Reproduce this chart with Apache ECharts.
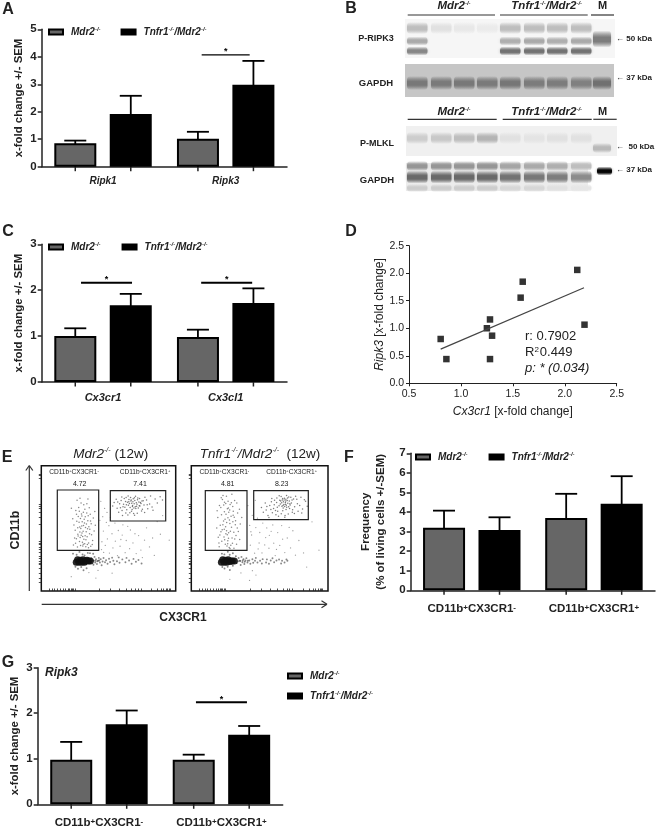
<!DOCTYPE html>
<html>
<head>
<meta charset="utf-8">
<script src="https://cdn.jsdelivr.net/npm/echarts@6/dist/echarts.min.js"></script>
<style>
html,body{margin:0;padding:0;background:#fff;}
#main{width:656px;height:827px;}
</style>
</head>
<body>
<div id="main"></div>
<script>
// group names
var MDR = 'Mdr2-/-';
var TNF = 'Tnfr1-/-/Mdr2-/-';

// panel A
var catsA = ['Ripk1', 'Ripk3'];
var mdrA = [0.85, 1.02];
var mdrTopA = [0.95, 1.27];
var tnfA = [1.92, 2.98];
var tnfTopA = [2.58, 3.85];
// panel C
var catsC = ['Cx3cr1', 'Cx3cl1'];
var mdrC = [1.0, 0.98];
var mdrTopC = [1.17, 1.14];
var tnfC = [1.67, 1.72];
var tnfTopC = [1.92, 2.04];
// panel F
var catsCells = ['CD11b+CX3CR1-', 'CD11b+CX3CR1+'];
var mdrF = [3.2, 3.7];
var mdrTopF = [4.07, 4.93];
var tnfF = [3.08, 4.42];
var tnfTopF = [3.73, 5.83];
// panel G
var mdrG = [0.98, 0.98];
var mdrTopG = [1.37, 1.09];
var tnfG = [1.76, 1.53];
var tnfTopG = [2.06, 1.72];

// panel D
var corrPoints = [[0.805,0.805],[0.86,0.44],[1.25,1.0],[1.28,1.16],[1.30,0.865],[1.28,0.44],[1.575,1.556],[1.595,1.846],[2.12,2.06],[2.19,1.065]];
var corrLine = [[0.805,0.62],[2.185,1.737]];

// panel E, % of the plot box
var mdrGateLow = [[30.4,55.2],[26.1,41.7],[33.8,62.3],[28.7,47.1],[35.2,38.4],[31.6,68.9],[24.3,52.6],[37.4,44.8],[29.2,36.3],[32.9,50.7],[27.5,59.4],[34.6,56.1],[30.8,43.5],[25.7,64.2],[36.1,49.3],[28.1,54.8],[33.2,40.9],[31.1,47.6],[38.7,58.2],[26.9,35.1],[29.9,61.5],[35.7,66.4],[32.3,37.8],[27.2,45.3],[34.1,43.2],[30.1,51.9],[23.4,57.7],[36.8,35.7],[31.9,57.3],[28.4,39.6],[33.6,53.4],[25.2,48.5],[39.3,47.9],[29.6,70.3],[32.6,44.1],[27.8,66.7],[35.4,51.2],[30.6,38.9],[34.9,60.1],[26.4,55.6],[31.3,62.8],[28.9,42.7],[37.1,53.7],[33.1,35.4],[29.4,49.8],[24.8,42.3],[36.4,61.2],[32.1,54.2],[27.1,50.4],[30.3,46.2],[34.3,37.1],[38.2,40.3],[28.3,63.6],[31.7,41.4],[35.9,45.6],[26.6,72.4],[33.4,47.2],[29.1,57.9],[32.4,65.3],[25.5,38.2],[30.9,35.9],[36.6,55.8],[27.4,43.9],[34.4,49.6],[31.4,52.3],[28.6,51.1],[39.8,63.4],[33.9,69.7],[22.4,66.1],[29.7,44.4],[35.1,34.6],[32.7,59.2],[26.2,61.3],[37.9,37.2],[30.2,59.8],[34.7,73.5],[23.9,36.7],[40.2,52.5],[28.8,74.1],[31.2,37.4]];
var mdrGateHigh = [[67.3,70.1],[64.8,68.4],[69.6,72.3],[71.2,69.2],[66.1,66.7],[62.7,71.4],[73.4,67.9],[68.4,73.6],[65.2,73.1],[70.3,65.8],[60.8,67.2],[74.9,71.8],[67.9,68.2],[63.6,64.9],[69.1,69.6],[71.8,74.2],[66.7,71.9],[58.3,69.7],[76.4,68.6],[64.1,70.9],[72.6,71.1],[61.7,73.8],[68.9,66.3],[75.2,65.2],[56.4,66.1],[70.7,70.4],[65.9,62.4],[78.3,72.7],[62.2,66.8],[73.1,73.9],[67.1,63.7],[59.4,72.2],[69.9,67.3],[80.6,69.4],[54.2,70.6],[72.2,66.2],[63.3,68.9],[77.1,74.8],[66.4,74.7],[60.1,64.3],[74.2,69.9],[68.2,71.3],[82.4,67.1],[57.6,62.9],[70.1,75.6],[64.4,60.7],[79.2,65.7],[71.4,62.1],[61.2,69.3],[75.8,72.1],[67.6,65.1],[55.7,73.2],[84.7,73.4],[65.6,69.8],[69.4,60.4],[73.7,70.7],[63.1,74.6],[81.3,75.9],[58.9,66.4],[76.9,62.6],[72.9,68.1],[66.9,72.6],[53.1,67.8],[86.3,70.2],[62.9,62.3],[70.9,67.7],[78.8,68.9],[59.9,75.1],[88.4,75.2],[74.6,63.8],[68.7,61.8],[83.1,64.4],[64.6,75.8],[60.4,60.2],[71.6,72.8],[56.9,71.1],[65.1,71.2],[67.8,67.4],[69.3,74.4],[90.2,72.6]];
var mdrSparse = [[44.3,71.6],[45.7,59.3],[46.2,47.8],[47.6,36.4],[47.1,65.9],[48.4,54.7],[49.2,41.6],[50.7,30.3],[50.3,52.1],[52.6,45.7],[53.3,34.4],[54.8,54.2],[55.1,39.8],[56.7,28.2],[57.3,48.3],[58.6,35.7],[60.2,44.6],[60.7,52.8],[62.4,30.6],[63.2,40.3],[65.7,33.8],[66.3,48.7],[68.2,38.4],[70.6,29.9],[72.4,44.2],[74.1,32.7],[76.8,40.6],[78.3,50.4],[80.5,35.2],[84.1,28.4],[75.2,26.7],[90.3,60.2],[46.4,30.8],[52.7,14.2],[22.3,11.4],[40.6,10.3],[35.4,14.7],[42.2,16.4],[95.2,40.6],[88.6,45.3],[43.6,56.4],[45.1,39.3],[44.8,33.1],[51.4,58.6],[48.9,62.7],[59.2,41.1],[64.3,51.6],[69.7,45.7],[82.8,42.3],[86.2,55.4]];
var mdrTail = [[36.4,22.3],[37.2,26.1],[38.3,24.4],[38.8,20.9],[39.6,27.2],[40.1,22.8],[40.7,25.3],[41.4,21.6],[42.3,24.2],[42.8,26.4],[43.6,22.7],[44.2,25.4],[44.9,20.6],[45.6,23.6],[46.3,26.3],[47.4,22.9],[48.2,24.6],[49.3,21.7],[50.4,25.7],[51.2,23.2],[52.7,26.6],[53.6,24.1],[54.4,21.4],[56.3,23.7],[57.6,26.8],[58.2,22.6],[60.3,25.2],[62.6,22.9],[63.4,26.4],[65.3,24.3],[67.2,21.8],[68.6,25.6],[70.4,23.4],[72.3,24.7],[74.6,21.9],[23.6,29.8],[26.3,28.9],[28.4,31.2],[30.7,29.1],[32.2,28.3],[34.6,30.4],[27.3,17.8],[29.7,19.2],[31.4,16.6],[25.4,19.3],[33.7,18.2],[36.2,30.2],[38.6,29.7],[37.1,23.4],[38.9,24.2],[40.2,24.1],[41.6,23.7],[43.1,24.3]];
var mdrBlob = [[26,23],[27,25],[28,23],[29,24.5],[30,23],[31,25],[32,23],[33,24],[34,24.5],[35,24],[36.5,24]];
var tnfGateLow = [[25.4,61.2],[21.7,47.3],[29.3,70.4],[23.6,55.8],[31.8,41.6],[27.1,66.3],[19.4,58.7],[33.6,50.2],[24.9,37.4],[28.2,53.9],[22.8,73.1],[30.7,63.7],[26.3,44.8],[20.6,68.2],[32.4,56.1],[24.1,49.2],[28.9,36.6],[26.8,58.4],[35.2,65.2],[22.3,39.7],[25.7,75.6],[31.1,46.9],[27.7,34.8],[21.2,52.4],[29.8,42.3],[25.9,54.6],[18.9,64.1],[33.1,37.3],[27.4,62.9],[23.9,43.1],[29.1,59.6],[20.9,44.6],[35.8,53.4],[25.2,69.8],[28.6,47.7],[23.2,76.3],[31.4,58.9],[26.1,35.9],[30.3,67.4],[22.1,60.8],[26.9,71.7],[24.4,40.9],[33.9,62.2],[28.3,33.9],[25.1,51.3],[20.2,38.4],[32.7,44.2],[27.9,56.7],[22.6,48.8],[26.4,65.6],[30.1,38.2],[34.4,47.4],[23.7,68.7],[27.2,42.1],[31.7,72.3],[21.9,74.4],[29.4,50.9],[24.7,57.3],[28.1,64.7],[20.4,35.3],[26.6,37.8],[32.2,52.8],[23.1,52.9],[30.4,55.3],[27.3,46.4],[24.2,63.3],[35.4,41.2],[29.7,77.2],[18.6,50.3],[25.3,45.7],[31.2,34.2],[28.4,69.1],[21.6,66.7],[33.3,70.2],[25.8,48.1],[30.6,60.4],[19.7,42.9],[36.9,58.6],[24.3,70.9],[26.7,40.2]];
var tnfGateHigh = [[67.4,71.3],[65.1,69.4],[69.2,73.2],[70.6,70.1],[66.3,67.6],[62.4,70.6],[72.3,68.7],[68.1,74.1],[64.7,72.4],[69.8,66.9],[60.2,65.8],[73.7,72.6],[67.7,69.1],[63.2,63.7],[68.8,70.7],[71.3,75.1],[66.6,72.7],[57.4,68.3],[75.6,67.2],[64.2,68.1],[71.7,71.9],[60.9,72.4],[68.3,67.4],[74.1,64.9],[54.8,64.6],[70.2,72.3],[65.8,61.7],[77.2,73.3],[61.6,64.2],[72.8,74.8],[66.9,64.1],[58.6,71.3],[69.5,68.4],[79.3,68.2],[52.7,62.8],[71.9,65.8],[62.9,66.9],[76.3,75.7],[65.7,75.4],[59.3,62.4],[73.2,70.3],[67.9,72.6],[81.4,65.4],[56.1,60.3],[69.7,76.2],[63.8,59.6],[78.1,63.7],[70.9,61.4],[60.7,68.9],[74.8,73.4],[67.2,66.2],[54.1,70.2],[83.6,71.7],[66.1,70.4],[68.6,60.2],[72.1,69.6],[62.6,74.3],[80.2,74.9],[58.2,65.1],[75.4,61.8],[71.2,67.3],[66.8,73.8],[51.3,66.7],[84.8,67.6],[61.9,60.8],[69.3,65.1],[77.6,69.7],[58.9,73.9],[82.7,72.8],[73.9,62.9],[68.4,58.9],[80.8,62.3],[64.3,76.1],[56.8,58.6],[70.4,74.2],[55.3,67.4],[65.4,71.8],[67.1,68.3],[69.1,71.8],[68.9,69.3]];
var tnfSparse = [[41.4,68.2],[42.7,52.3],[43.2,36.6],[44.6,60.4],[44.1,44.7],[46.3,30.2],[46.8,72.4],[47.2,50.6],[48.4,58.1],[49.6,38.3],[50.1,46.7],[51.7,30.4],[52.3,54.2],[54.4,42.6],[55.2,50.3],[56.8,34.1],[57.1,44.4],[59.6,52.7],[60.3,38.2],[61.4,28.3],[63.2,46.6],[64.7,36.4],[66.1,52.2],[68.4,30.7],[70.2,42.3],[72.6,34.4],[74.3,48.1],[76.2,28.6],[78.7,40.3],[82.1,30.4],[88.3,55.2],[93.4,32.6],[44.7,16.2],[36.3,14.4],[28.2,9.3],[42.6,8.4],[84.4,19.1],[47.3,12.7],[43.6,47.3],[48.9,33.6],[53.7,36.8],[58.4,47.6],[62.3,33.2],[66.8,41.4],[71.6,50.7]];
var tnfTail = [[33.2,22.4],[34.6,26.3],[35.4,24.2],[36.1,20.8],[36.7,27.2],[37.4,22.9],[38.2,25.3],[38.8,21.6],[39.6,24.3],[40.3,26.2],[41.1,22.7],[42.4,24.4],[43.2,21.8],[44.7,25.3],[45.3,22.6],[46.6,24.1],[47.2,26.4],[48.4,22.7],[50.3,24.2],[51.6,21.9],[52.2,25.4],[54.7,22.8],[55.3,25.2],[56.8,21.7],[58.1,24.3],[59.4,26.1],[60.6,22.9],[62.3,24.4],[64.2,25.1],[65.7,21.9],[66.4,24.2],[68.2,22.8],[69.6,25.2],[70.3,24.1],[22.4,29.8],[24.2,29.2],[26.7,31.3],[28.1,28.9],[30.4,30.1],[32.6,27.8],[24.3,17.9],[26.6,19.3],[28.2,16.8],[30.4,20.1],[22.7,19.2],[34.2,23.7],[35.8,23.9],[37.6,24.4],[39.1,23.4],[41.3,24.2]];
var tnfBlob = [[22,23],[23,25],[24,23],[25,24.5],[26,23],[27,25],[28,23.5],[29,24],[30,24],[31.5,24]];
var flowTicksX = [6,8,10,12,14,16,18,20,21,22,23,24,25,43,51,58,63,67,70,72,74,82,86,89,91,93,94,95,96];
var flowTicksY = [7,10,14,18,21,22.5,24,26,28,31,33,35,37,38.5,40,53,59,63,66,68,69,90,92,93];

// blot grey levels per lane, 255 = no band
var ripk3Top = [190,225,232,235,190,190,190,190,255];
var ripk3Mid = [170,255,255,255,175,170,175,170,255];
var ripk3Low = [135,255,255,255,115,115,115,115,255];
var gapdhA = [120,122,120,122,118,124,124,128,112];
var mlklRow = [205,200,190,180,225,228,225,225,255];
var gapdhTop = [150,150,150,150,165,170,175,190,255];
var gapdhMain = [105,105,105,105,115,120,125,140,255];
var gapdhLow = [205,205,205,205,215,215,225,230,255];

var FONT = '"Liberation Sans", Arial, sans-serif';
var INK = '#222';
var BAR_GREY = '#666';
var OFFSET = 27.75;

var supStyle = {fontSize: 6, verticalAlign: 'top', fontWeight: 'bold', fontStyle: 'italic', fontFamily: FONT, color: INK, fill: INK};

// Mdr2-/- -> rich text with the -/- raised
function groupLabel(name) {
	return name.split('-/-').map(function (part, i, all) {
		var out = part ? '{i|' + part + '}' : '';
		return i < all.length - 1 ? out + '{s|-/-}' : out;
	}).join('');
}
// CD11b+CX3CR1- -> rich text with signs raised
function cellLabel(name) {
	return '{b|CD11b}{p|+}{b|CX3CR1}{p|' + name.slice(-1) + '}';
}

var grids = [], xAxes = [], yAxes = [], series = [], legends = [];

function addLegend(l, t, gap, orient) {
	legends.push({
		left: l, top: t, orient: orient || 'horizontal', padding: 0, itemWidth: 14, itemHeight: 5, itemGap: gap,
		icon: 'rect', data: [MDR, TNF], selectedMode: false,
		formatter: function (n) { return '{g|}' + groupLabel(n); },
		textStyle: {
			color: INK,
			rich: {
				g: {width: 3},
				i: {fontSize: 10, fontWeight: 'bold', fontStyle: 'italic', fontFamily: FONT, color: INK, height: 10},
				s: supStyle
			}
		}
	});
}

function addBars(p) {
	var gi = grids.length;
	grids.push({left: p.left, top: p.top, width: p.width, height: p.height, outerBoundsMode: 'none'});
	xAxes.push({
		gridIndex: gi, type: 'category', data: p.cats,
		axisLine: {lineStyle: {color: INK, width: 1.5}},
		axisTick: {show: false},
		axisLabel: {
			interval: 0, margin: p.labelMargin, color: INK, fontFamily: FONT,
			fontSize: p.catSize, fontWeight: 'bold', fontStyle: p.cell ? 'normal' : 'italic',
			formatter: p.cell ? cellLabel : null,
			rich: p.cell ? {
				b: {fontSize: 11.5, fontWeight: 'bold', fontFamily: FONT, color: INK},
				p: {fontSize: 8, fontWeight: 'bold', fontFamily: FONT, color: INK, verticalAlign: 'top'}
			} : undefined
		}
	});
	yAxes.push({
		gridIndex: gi, type: 'value', min: 0, max: p.max, interval: 1,
		splitLine: {show: false},
		axisLine: {show: true, lineStyle: {color: INK, width: 1.5}},
		axisTick: {show: true, length: 4, lineStyle: {color: INK, width: 1.5}},
		axisLabel: {margin: 5, color: INK, fontFamily: FONT, fontSize: 11.5, fontWeight: 'bold'},
		name: p.yName, nameLocation: 'middle', nameGap: p.nameGap,
		nameTextStyle: {color: INK, fontFamily: FONT, fontSize: p.nameSize || 11.4, fontWeight: 'bold', lineHeight: 15}
	});
	[[MDR, p.mdr, BAR_GREY], [TNF, p.tnf, '#000']].forEach(function (s) {
		series.push({
			name: s[0], type: 'bar', xAxisIndex: gi, yAxisIndex: gi, data: s[1],
			barWidth: 42, barGap: '32%', itemStyle: {color: s[2], borderColor: '#000', borderWidth: 2}
		});
	});
	// error bars and the tick under each bar
	var rows = [];
	p.mdrTop.forEach(function (v, i) { rows.push([i, -1, v]); });
	p.tnfTop.forEach(function (v, i) { rows.push([i, 1, v]); });
	series.push({
		name: 'err', type: 'custom', xAxisIndex: gi, yAxisIndex: gi, data: rows, z: 1, silent: true,
		encode: {x: 0, y: 2},
		renderItem: function (params, api) {
			var top = api.coord([api.value(0), api.value(2)]);
			var base = api.coord([api.value(0), 0]);
			var x = top[0] + api.value(1) * OFFSET;
			var st = {stroke: '#000', lineWidth: 1.8};
			return {type: 'group', children: [
				{type: 'line', shape: {x1: x, y1: top[1], x2: x, y2: base[1]}, style: st},
				{type: 'line', shape: {x1: x - 11, y1: top[1], x2: x + 11, y2: top[1]}, style: st},
				{type: 'line', shape: {x1: x, y1: base[1], x2: x, y2: base[1] + 4.5}, style: {stroke: INK, lineWidth: 1.5}}
			]};
		}
	});
	// significance bars
	if (p.sig) {
		series.push({
			name: 'sig', type: 'custom', xAxisIndex: gi, yAxisIndex: gi, data: p.sig, silent: true, z: 3,
			encode: {x: 0, y: 1},
			renderItem: function (params, api) {
				var c = api.coord([api.value(0), api.value(1)]);
				var cx = c[0] + (api.value(2) || 0);
				return {type: 'group', children: [
					{type: 'line', shape: {x1: cx - p.sigHalf, y1: c[1], x2: cx + p.sigHalf, y2: c[1]}, style: {stroke: '#000', lineWidth: p.sigWidth}},
					{type: 'text', style: {x: cx, y: c[1] - 3, text: '*', fill: '#000', font: 'bold 9px ' + FONT, textAlign: 'center', textVerticalAlign: 'middle'}}
				]};
			}
		});
	}
}

function addFlow(left, width, low, high, sparse, tail, blob) {
	var gi = grids.length;
	grids.push({left: left, top: 465.7, width: width, height: 125.3, outerBoundsMode: 'none', show: true, borderColor: '#111', borderWidth: 1.5, backgroundColor: 'transparent'});
	xAxes.push({gridIndex: gi, type: 'value', min: 0, max: 100, splitLine: {show: false}, axisLine: {show: false}, axisLabel: {show: false},
		axisTick: {show: true, customValues: flowTicksX, length: 2.5, inside: true, lineStyle: {color: INK, width: 0.8}}});
	yAxes.push({gridIndex: gi, type: 'value', min: 0, max: 100, splitLine: {show: false}, axisLine: {show: false}, axisLabel: {show: false},
		axisTick: {show: true, customValues: flowTicksY, length: 2.5, lineStyle: {color: INK, width: 0.8}}});
	[[sparse, 1.3, 0.4], [low, 1.5, 0.5], [high, 1.5, 0.55], [tail, 1.9, 0.5], [blob, 7, 0.9]].forEach(function (s) {
		series.push({type: 'scatter', xAxisIndex: gi, yAxisIndex: gi, data: s[0], symbol: 'circle', symbolSize: s[1], silent: true,
			itemStyle: {color: '#111', opacity: s[2]}});
	});
}

addBars({left: 41.7, top: 29.3, width: 245.3, height: 137.4, max: 5, cats: catsA, mdr: mdrA, mdrTop: mdrTopA, tnf: tnfA, tnfTop: tnfTopA,
	yName: 'x-fold change +/- SEM', nameGap: 15, catSize: 10, labelMargin: 10, sig: [[1, 4.07]], sigHalf: 24, sigWidth: 1.1});
addBars({left: 41.7, top: 244.3, width: 245.3, height: 137.7, max: 3, cats: catsC, mdr: mdrC, mdrTop: mdrTopC, tnf: tnfC, tnfTop: tnfTopC,
	yName: 'x-fold change +/- SEM', nameGap: 11, catSize: 11, labelMargin: 10, sig: [[0, 2.16, 3.5], [1, 2.16, 1]], sigHalf: 25.5, sigWidth: 2});
addBars({left: 410.7, top: 453.3, width: 244.3, height: 137, max: 7, cats: catsCells, cell: true, mdr: mdrF, mdrTop: mdrTopF, tnf: tnfF, tnfTop: tnfTopF,
	yName: 'Frequency\n(% of living cells +/-SEM)', nameGap: 22, catSize: 11, labelMargin: 13, nameSize: 11.5});
addBars({left: 37.7, top: 667.7, width: 245, height: 136.6, max: 3, cats: catsCells, cell: true, mdr: mdrG, mdrTop: mdrTopG, tnf: tnfG, tnfTop: tnfTopG,
	yName: 'x-fold change +/- SEM', nameGap: 15, catSize: 11, labelMargin: 13, sig: [[1, 2.24]], sigHalf: 25.5, sigWidth: 2});

addLegend(48, 26, 20);
addLegend(48, 241, 21);
addLegend(415, 451, 21);
addLegend(287, 670, 8, 'vertical');

// panel D scatter
var gd = grids.length;
grids.push({left: 409, top: 245.7, width: 207.7, height: 137.6, outerBoundsMode: 'none'});
var dLabel = function (v) { return v.toFixed(1); };
var dName = {rich: {i: {fontStyle: 'italic', fontSize: 12, fontFamily: FONT, color: INK}, n: {fontSize: 12, fontFamily: FONT, color: INK}}};
xAxes.push({gridIndex: gd, type: 'value', min: 0.5, max: 2.5, interval: 0.5, splitLine: {show: false},
	axisLine: {lineStyle: {color: INK, width: 1}}, axisTick: {length: 3, lineStyle: {color: INK}},
	axisLabel: {margin: 5, color: INK, fontFamily: FONT, fontSize: 10.5, formatter: dLabel},
	name: '{i|Cx3cr1}{n| [x-fold change]}', nameLocation: 'middle', nameGap: 22, nameTextStyle: dName});
yAxes.push({gridIndex: gd, type: 'value', min: 0, max: 2.5, interval: 0.5, splitLine: {show: false},
	axisLine: {show: true, lineStyle: {color: INK, width: 1}}, axisTick: {show: true, length: 3, lineStyle: {color: INK}},
	axisLabel: {margin: 5, color: INK, fontFamily: FONT, fontSize: 10.5, formatter: dLabel},
	name: '{i|Ripk3}{n| [x-fold change]}', nameLocation: 'middle', nameGap: 23, nameTextStyle: dName});
series.push({type: 'line', xAxisIndex: gd, yAxisIndex: gd, data: corrLine, showSymbol: false, silent: true, lineStyle: {color: '#444', width: 1.2}});
series.push({type: 'scatter', xAxisIndex: gd, yAxisIndex: gd, data: corrPoints, symbol: 'rect', symbolSize: 6.5, silent: true, itemStyle: {color: '#000'}});

// panel E dot plots
addFlow(41.3, 134.4, mdrGateLow, mdrGateHigh, mdrSparse, mdrTail, mdrBlob);
addFlow(191.3, 136.7, tnfGateLow, tnfGateHigh, tnfSparse, tnfTail, tnfBlob);

// drawn furniture
var gfx = [];
function txt(x, y, text, font, extra) {
	var el = {type: 'text', x: x, y: y, silent: true, z: 10, style: {text: text, font: font + ' ' + FONT, fill: INK, textAlign: 'center', textVerticalAlign: 'middle'}};
	if (extra) {
		if (extra.rotation) el.rotation = extra.rotation;
		if (extra.rich) el.style.rich = extra.rich;
		if (extra.align) el.style.textAlign = extra.align;
		if (extra.fill) el.style.fill = extra.fill;
	}
	gfx.push(el);
}
function seg(x1, y1, x2, y2, w, color) {
	gfx.push({type: 'line', silent: true, z: 10, shape: {x1: x1, y1: y1, x2: x2, y2: y2}, style: {stroke: color || '#333', lineWidth: w}});
}
function box(x, y, w, h, stroke, fill) {
	gfx.push({type: 'rect', silent: true, z: stroke ? 9 : 6, shape: {x: x, y: y, width: w, height: h}, style: {stroke: stroke || null, lineWidth: 1.2, fill: fill || 'transparent'}});
}
function gray(g, a) { return 'rgba(' + g + ',' + g + ',' + g + ',' + a + ')'; }
function band(x, y, w, h, g) {
	if (g >= 255) return;
	gfx.push({type: 'rect', silent: true, z: 7, shape: {x: x, y: y - h / 2, width: w, height: h, r: 4},
		style: {shadowBlur: 3, shadowColor: gray(g, 0.4), fill: {type: 'linear', x: 0, y: 0, x2: 0, y2: 1, colorStops: [
			{offset: 0, color: gray(g, 0)}, {offset: 0.4, color: gray(g, 1)}, {offset: 0.65, color: gray(g, 1)}, {offset: 1, color: gray(g, 0)}]}}});
}
var laneX = [407, 431, 454, 477, 500, 524, 547, 571, 593];
function bandRow(levels, y, h) {
	levels.forEach(function (g, i) {
		band(laneX[i], y, i === 8 ? 18 : 20.5, h, g);
	});
}

// panel letters
[['A', 8, 10], ['B', 351, 9], ['C', 8, 232], ['D', 351, 232], ['E', 7, 458], ['F', 349, 458], ['G', 8, 663]].forEach(function (l) {
	txt(l[1], l[2], l[0], 'bold 16px');
});

var blotRich = {
	i: {fontSize: 11.5, fontStyle: 'italic', fontWeight: 'bold', fontFamily: FONT, fill: INK, color: INK},
	s: {fontSize: 6, fontStyle: 'italic', fontWeight: 'bold', fontFamily: FONT, fill: INK, color: INK, verticalAlign: 'top'}
};
// panel B
box(405, 19, 210, 39, null, '#f6f6f6');
box(405, 64, 209, 33, null, '#c6c6c6');
box(406, 126, 211, 30, null, '#f0f0f0');
box(406, 163, 182, 28, null, '#ececec');
bandRow(ripk3Top, 28, 12);
bandRow(ripk3Mid, 41, 9);
bandRow(ripk3Low, 51, 9);
band(593, 39, 18, 17, 125);
bandRow(gapdhA, 83, 14);
bandRow(mlklRow, 138, 12);
band(593, 148, 18, 10, 185);
bandRow(gapdhTop, 166, 10);
bandRow(gapdhMain, 177, 13);
bandRow(gapdhLow, 188, 8);
band(597, 171, 15, 9, 5);
txt(454, 6, groupLabel(MDR), 'italic bold 10px', {rich: blotRich});
txt(546.7, 6, groupLabel(TNF), 'italic bold 10px', {rich: blotRich});
txt(602.7, 6, 'M', 'bold 11px');
seg(407.7, 15, 495, 15, 1.2); seg(500, 15, 587.7, 15, 1.2); seg(591, 15, 614, 15, 1.2);
txt(454, 112, groupLabel(MDR), 'italic bold 10px', {rich: blotRich});
txt(546.7, 112, groupLabel(TNF), 'italic bold 10px', {rich: blotRich});
txt(602.7, 112, 'M', 'bold 11px');
seg(407.7, 119.3, 496.7, 119.3, 1.2); seg(502.7, 119.3, 591.7, 119.3, 1.2); seg(593.3, 119.3, 616.7, 119.3, 1.2);
txt(376, 39, 'P-RIPK3', 'bold 9px');
txt(376, 83, 'GAPDH', 'bold 9.5px');
txt(377, 144, 'P-MLKL', 'bold 9px');
txt(377, 180, 'GAPDH', 'bold 9.5px');
txt(616, 38.7, '\u2190 50 kDa', 'bold 8px', {align: 'left'});
txt(616, 78, '\u2190 37 kDa', 'bold 8px', {align: 'left'});
txt(616, 147, '\u2190  50 kDa', 'bold 8px', {align: 'left'});
txt(616, 170, '\u2190 37 kDa', 'bold 8px', {align: 'left'});

// panel D stats
txt(525, 336, 'r: 0.7902', '13px', {align: 'left'});
txt(525, 352, '{n|R}{u|2}{n|0.449}', '13px', {align: 'left', rich: {
	n: {fontSize: 13, fontFamily: FONT, fill: INK, color: INK},
	u: {fontSize: 8, fontFamily: FONT, fill: INK, color: INK, verticalAlign: 'top', padding: [0, 1, 0, 0]}
}});
txt(525, 368, 'p: * (0.034)', 'italic 13px', {align: 'left'});

// panel E text
var titleRich = {
	i: {fontSize: 13.5, fontStyle: 'italic', fontFamily: FONT, fill: INK, color: INK},
	s: {fontSize: 7, fontStyle: 'italic', fontFamily: FONT, fill: INK, color: INK, verticalAlign: 'top'},
	n: {fontSize: 13.5, fontFamily: FONT, fill: INK, color: INK}
};
txt(110.7, 454, groupLabel(MDR) + '{n| (12w)}', '12px', {rich: titleRich});
txt(260, 454, groupLabel(TNF) + '{n|  (12w)}', '12px', {rich: titleRich});
var tinyRich = {
	b: {fontSize: 6.6, fontFamily: FONT, fill: INK, color: INK},
	p: {fontSize: 4, fontFamily: FONT, fill: INK, color: INK, verticalAlign: 'top'}
};
txt(74, 472, cellLabel('CD11b+CX3CR1-'), '6px', {rich: tinyRich});
txt(145, 472, cellLabel('CD11b+CX3CR1+'), '6px', {rich: tinyRich});
txt(224.3, 472, cellLabel('CD11b+CX3CR1-'), '6px', {rich: tinyRich});
txt(291.7, 472, cellLabel('CD11b+CX3CR1+'), '6px', {rich: tinyRich});
txt(79.7, 484, '4.72', '7px');
txt(140, 484, '7.41', '7px');
txt(227.7, 484, '4.81', '7px');
txt(281.7, 484, '8.23', '7px');
box(57.3, 490, 41.4, 60.3, '#222');
box(110.3, 490.7, 55.4, 30.3, '#222');
box(205.3, 490.7, 41.7, 59.6, '#222');
box(253.7, 490.7, 54.6, 29, '#222');
seg(29.3, 591, 29.3, 466, 1.2);
seg(25.8, 470.5, 29.3, 465.5, 1.2); seg(32.8, 470.5, 29.3, 465.5, 1.2);
seg(41.7, 604.3, 326.5, 604.3, 1.2);
seg(321.5, 600.8, 327, 604.3, 1.2); seg(321.5, 607.8, 327, 604.3, 1.2);
txt(15.7, 530, 'CD11b', 'bold 12.5px', {rotation: Math.PI / 2});
txt(183, 617.7, 'CX3CR1', 'bold 12px');

// panel G title
txt(45, 673, 'Ripk3', 'italic bold 12px', {align: 'left'});

var myChart = echarts.init(document.getElementById('main'), null, {renderer: 'canvas'});
myChart.setOption({
	animation: false,
	backgroundColor: '#fff',
	textStyle: {fontFamily: FONT},
	grid: grids,
	xAxis: xAxes,
	yAxis: yAxes,
	legend: legends,
	series: series,
	graphic: {elements: gfx}
});
</script>
</body>
</html>
